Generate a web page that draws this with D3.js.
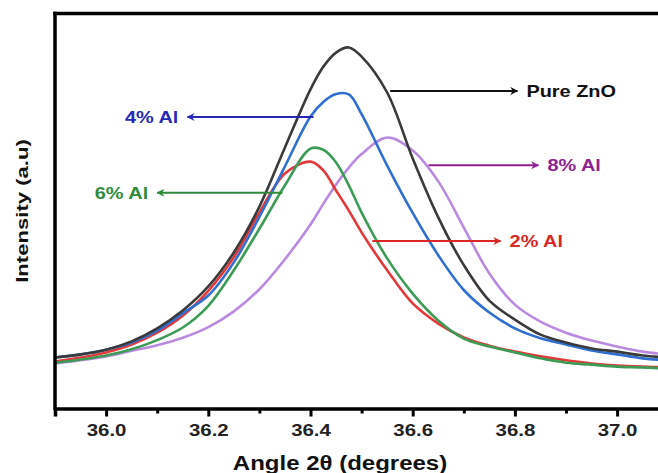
<!DOCTYPE html>
<html>
<head>
<meta charset="utf-8">
<script src="https://cdn.jsdelivr.net/npm/d3@7/dist/d3.min.js"></script>
<style>
body{margin:0;background:#fff;}
text{font-family:Arial,"Liberation Sans",sans-serif;font-weight:bold;}
</style>
</head>
<body>
<div id="chart"></div>
<script>
// angle 2theta (degrees), shared by every curve
var angles = [35.90,35.95,36.00,36.05,36.10,36.15,36.20,36.25,36.30,36.35,36.40,36.425,36.45,36.475,36.50,36.55,36.60,36.65,36.70,36.75,36.80,36.85,36.90,36.95,37.00,37.05,37.10];

// intensity (a.u)
var pureZnO = [12.9,13.7,14.9,17.0,20.3,24.8,30.9,39.5,51.1,66.1,80.8,86.5,90.1,91.4,89.1,80.0,63.3,48.4,36.3,27.3,22.5,18.7,16.7,15.2,14.4,13.4,12.9];
var al4 = [12.9,13.7,14.9,16.7,19.7,24.1,28.6,37.0,48.5,61.3,73.9,77.6,79.6,79.5,74.5,61.5,49.5,38.8,30.0,24.3,20.3,17.8,16.2,14.7,13.7,12.7,12.2];
var al6 = [11.6,12.4,13.4,15.0,17.3,20.5,26.0,35.0,45.5,56.5,65.8,65.5,62.3,56.5,49.6,38.0,29.1,22.3,17.7,15.7,14.2,12.7,11.6,11.1,10.6,10.4,10.1];
var al2 = [11.9,12.9,14.2,16.2,19.2,23.5,29.8,38.3,49.6,59.5,62.5,60.3,55.2,50.1,44.6,35.0,26.6,21.5,18.0,15.9,14.4,13.2,12.2,11.4,10.9,10.6,10.4];
var al8 = [11.4,12.2,13.2,14.6,16.0,17.9,20.6,24.6,30.2,37.8,46.6,51.8,56.7,61.0,64.4,68.6,65.3,57.5,45.8,34.2,26.3,22.0,19.2,17.2,15.7,14.4,13.7];

var seriesNames = ["8% Al","2% Al","6% Al","4% Al","Pure ZnO"];
var seriesValues = [al8, al2, al6, al4, pureZnO];
var lineColors = ["#b98ae0","#e2383a","#3c9c55","#2f6fd2","#3a3a3a"];

var majorTicks = [36.0,36.2,36.4,36.6,36.8,37.0];
var minorTicks = [36.1,36.3,36.5,36.7,36.9];

// callouts: label, arrow start (on curve), arrow tip, height
var calloutLabels = ["Pure ZnO","4% Al","6% Al","8% Al","2% Al"];
var calloutFrom = [36.556,36.406,36.345,36.631,36.521];
var calloutTo = [36.805,36.159,36.100,36.846,36.772];
var calloutY = [80.4,73.8,54.6,61.6,42.4];
var calloutColors = ["#111111","#2828b8","#2e8b3a","#8e228e","#d92626"];

var W = 658, H = 473;
var svg = d3.select("#chart").append("svg").attr("width",W).attr("height",H);

var x = d3.scaleLinear().domain([35.9,37.1]).range([55, 55+1.2*511]);
var y = d3.scaleLinear().domain([0,100]).range([408.5, 13.5]);

function stretch(sel,k){
    sel.each(function(){
        var w = this.getComputedTextLength();
        d3.select(this).attr("textLength", w*k).attr("lengthAdjust","spacingAndGlyphs");
    });
}

// curves
var line = d3.line()
    .x(function(d){return x(d[0]);})
    .y(function(d){return y(d[1]);})
    .curve(d3.curveCatmullRom.alpha(0.5));

for(var s = 0;s < seriesValues.length;s++){
    var pts = angles.map(function(a,i){return [a, seriesValues[s][i]];});
    svg.append("path")
        .datum(pts)
        .attr("d",line)
        .attr("fill","none")
        .attr("stroke",lineColors[s])
        .attr("stroke-width",2.6);
}

// frame: left and top
svg.append("line").attr("x1",x(35.9)).attr("x2",x(35.9)).attr("y1",y(100)).attr("y2",y(0))
    .attr("stroke","#000").attr("stroke-width",3.5).attr("stroke-linecap","square");
svg.append("line").attr("x1",x(35.9)).attr("x2",W+5).attr("y1",y(100)).attr("y2",y(100))
    .attr("stroke","#000").attr("stroke-width",3.5).attr("stroke-linecap","square");

// x axis
var gMinor = svg.append("g").attr("transform","translate(0,"+y(0)+")")
    .call(d3.axisBottom(x).tickValues(minorTicks).tickSize(5).tickFormat(""));
gMinor.select(".domain").remove();
gMinor.selectAll(".tick line").attr("stroke","#000").attr("stroke-width",3);

var gx = svg.append("g").attr("transform","translate(0,"+y(0)+")")
    .call(d3.axisBottom(x).tickValues(majorTicks).tickSize(8).tickPadding(7).tickFormat(d3.format(".1f")));
gx.select(".domain").attr("stroke","#000").attr("stroke-width",3.5);
gx.selectAll(".tick line").attr("stroke","#000").attr("stroke-width",3);
gx.selectAll(".tick text").attr("fill","#222").style("font-size","17px").style("font-family","Arial, 'Liberation Sans', sans-serif").style("font-weight","bold");
stretch(gx.selectAll(".tick text"),1.2);

// axis titles
var xt = svg.append("text").attr("x",340).attr("y",470)
    .attr("text-anchor","middle").style("font-size","20px").attr("fill","#111")
    .text("Angle 2θ (degrees)");
stretch(xt,1.2);

var yt = svg.append("text").attr("transform","translate(22,"+y(50)+") rotate(-90)")
    .attr("text-anchor","middle").attr("dy","0.35em").style("font-size","17px").attr("fill","#111")
    .text("Intensity (a.u)");
stretch(yt,1.3);

// callout arrows
var defs = svg.append("defs");
calloutColors.forEach(function(c,i){
    defs.append("marker").attr("id","arr"+i)
        .attr("viewBox","0 0 10 10").attr("refX",9).attr("refY",5)
        .attr("markerUnits","userSpaceOnUse").attr("markerWidth",13).attr("markerHeight",8)
        .attr("orient","auto")
        .append("path").attr("d","M0,0 L10,5 L0,10 L3,5 Z").attr("fill",c);
});

for(var i = 0;i < calloutLabels.length;i++){
    var right = calloutTo[i] > calloutFrom[i];
    svg.append("line")
        .attr("x1",x(calloutFrom[i])).attr("x2",x(calloutTo[i]))
        .attr("y1",y(calloutY[i])).attr("y2",y(calloutY[i]))
        .attr("stroke",calloutColors[i]).attr("stroke-width",2)
        .attr("marker-end","url(#arr"+i+")");
    var t = svg.append("text")
        .attr("x",x(calloutTo[i]) + (right ? 9 : -9))
        .attr("y",y(calloutY[i])).attr("dy","0.36em")
        .attr("text-anchor",right ? "start" : "end")
        .style("font-size","17px").attr("fill",calloutColors[i])
        .text(calloutLabels[i]);
    stretch(t,1.17);
}
</script>
</body>
</html>
